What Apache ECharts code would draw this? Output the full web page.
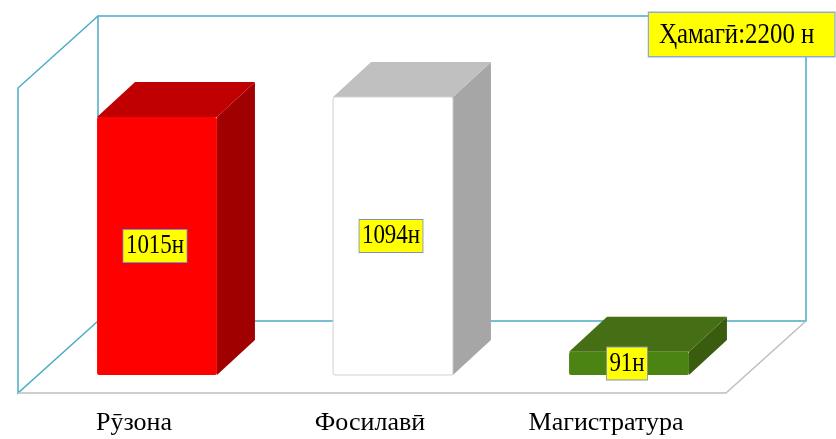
<!DOCTYPE html>
<html>
<head>
<meta charset="utf-8">
<script src="https://cdn.jsdelivr.net/npm/echarts@6/dist/echarts.min.js"></script>
<style>
  html, body { margin: 0; padding: 0; background: #fff; }
  #main { width: 836px; height: 439px; }
</style>
</head>
<body>
<div id="main"></div>
<script>
// chart data
const categories = ['Рӯзона', 'Фосилавӣ', 'Магистратура'];
const values = [1015, 1094, 91];
const totalText = 'Ҳамагӣ:2200 н';
const unit = 'н';

// face colours per bar (front, top, side)
const frontColors = ['#FF0000', '#FFFFFF', '#4C8414'];
const topColors = ['#C00000', '#C0C0C0', '#466E14'];
const sideColors = ['#A00000', '#A6A6A6', '#3A5C0E'];

const FONT = '"Liberation Serif", "DejaVu Serif", serif';
const grid = { left: 39, right: 89, top: 70, bottom: 64 };
const W = 836, H = 439;
const depth = [38, -35]; // bar depth offset

const chartDom = document.getElementById('main');
const myChart = echarts.init(chartDom);

function renderItem(params, api) {
    const i = params.dataIndex;
    const base = api.coord([api.value(0), 0]);
    const top = api.coord([api.value(0), api.value(1)]);
    const w = api.size([1, 0])[0] * 0.508;
    const x0 = base[0] - w / 2, x1 = base[0] + w / 2;
    const y0 = top[1], y1 = base[1];
    const dx = depth[0], dy = depth[1];
    return {
        type: 'group',
        children: [
            {
                type: 'polygon',
                shape: { points: [[x1, y0], [x1 + dx, y0 + dy], [x1 + dx, y1 + dy], [x1, y1]] },
                style: { fill: sideColors[i] }
            },
            {
                type: 'polygon',
                shape: { points: [[x0, y0], [x0 + dx, y0 + dy], [x1 + dx, y0 + dy], [x1, y0]] },
                style: { fill: topColors[i] }
            },
            {
                type: 'rect',
                shape: { x: x0, y: y0, width: w, height: y1 - y0, r: 2 },
                style: { fill: frontColors[i], stroke: i === 1 ? '#D0D0D0' : null, lineWidth: 1 }
            },
            {
                type: 'text',
                x: base[0] - 2,
                y: (y0 + y1) / 2,
                scaleX: 0.82,
                style: {
                    text: api.value(1) + unit,
                    font: '28px ' + FONT,
                    fill: '#000',
                    align: 'center',
                    verticalAlign: 'middle',
                    backgroundColor: '#FFFF00',
                    borderColor: '#7F8FC0',
                    borderWidth: 1,
                    padding: [3, 3, 1, 3]
                }
            }
        ]
    };
}

// frame of the 3D walls, derived from the grid box
const gx0 = grid.left, gx1 = W - grid.right, gy0 = grid.top, gy1 = H - grid.bottom;
const back = [59, -54], front = [-21, 18];
const bx0 = gx0 + back[0], bx1 = gx1 + back[0], by0 = gy0 + back[1], by1 = gy1 + back[1];
const fx0 = gx0 + front[0], fx1 = gx1 + front[0], fy0 = gy0 + front[1], fy1 = gy1 + front[1];
const blue = { stroke: '#4BACC6', lineWidth: 1.5, fill: null };
const grey = { stroke: '#BFBFBF', lineWidth: 1.5, fill: null };

const frame = [
    { type: 'polyline', shape: { points: [[bx0, by1], [bx0, by0], [bx1, by0], [bx1, by1], [bx0, by1]] }, style: blue },
    { type: 'polyline', shape: { points: [[bx0, by0], [fx0, fy0], [fx0, fy1], [bx0, by1]] }, style: blue },
    { type: 'polyline', shape: { points: [[fx0, fy1], [fx1, fy1], [bx1, by1]] }, style: grey },
    // total box
    {
        type: 'text',
        x: 649,
        y: 13,
        scaleX: 0.83,
        z: 10,
        style: {
            text: totalText,
            font: '30px ' + FONT,
            fill: '#000',
            align: 'left',
            verticalAlign: 'top',
            backgroundColor: '#FFFF00',
            borderColor: '#8EA9DB',
            borderWidth: 1.5,
            padding: [7, 24, 6, 12]
        }
    }
];

const option = {
    animation: false,
    grid: grid,
    graphic: { elements: frame },
    xAxis: {
        type: 'category',
        data: categories,
        axisLine: { show: false },
        axisTick: { show: false },
        axisLabel: {
            margin: 35,
            fontFamily: FONT,
            fontSize: 26,
            color: '#000',
            padding: [0, 46, 0, 0]
        }
    },
    yAxis: {
        type: 'value',
        min: 0,
        max: 1200,
        show: false
    },
    series: [{
        type: 'custom',
        renderItem: renderItem,
        encode: { x: 0, y: 1 },
        data: values.map((v, i) => [i, v])
    }]
};

myChart.setOption(option);
</script>
</body>
</html>
